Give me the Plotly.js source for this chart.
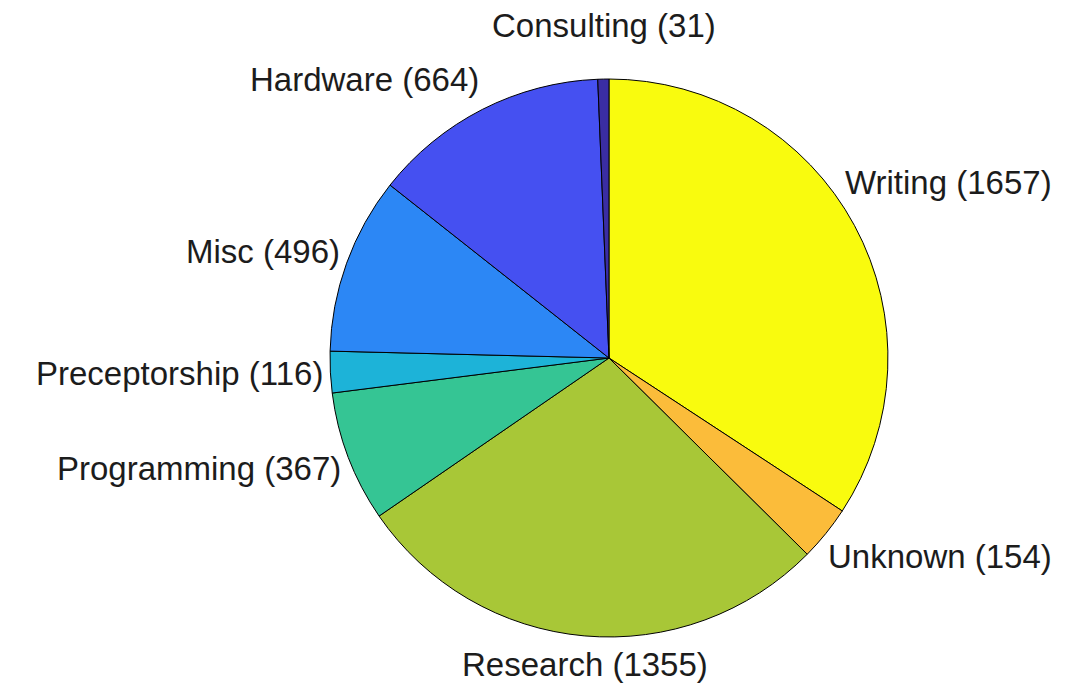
<!DOCTYPE html>
<html>
<head>
<meta charset="utf-8">
<script src="https://cdn.plot.ly/plotly-3.0.1.min.js"></script>
<style>html,body{margin:0;padding:0;background:#fff;}#chart{width:1071px;height:689px;}</style>
</head>
<body>
<div id="chart"></div>
<script>
const categories = ["Writing", "Unknown", "Research", "Programming", "Preceptorship", "Misc", "Hardware", "Consulting"];
const counts = [1657, 154, 1355, 367, 116, 496, 664, 31];
const sliceColors = ["#F9FB0E", "#FBBC3A", "#A8C737", "#35C594", "#1DB3D8", "#2C87F5", "#4550F1", "#3A2DA3"];

const W = 1071, H = 689;
const domX = [0.3081, 0.8291], domY = [0.0755, 0.8853];
const fontFamily = "Liberation Sans, Arial, Helvetica, sans-serif";
const fontSize = 33;

const trace = {
  type: "pie",
  labels: categories,
  values: counts,
  sort: false,
  direction: "clockwise",
  rotation: 0,
  textinfo: "none",
  marker: {colors: sliceColors, line: {color: "#000", width: 1}},
  domain: {x: domX, y: domY},
  hoverinfo: "label+value",
  automargin: false
};

// Labels placed just outside the rim at each slice's mid angle, kept inside the figure
const ctx = document.createElement("canvas").getContext("2d");
ctx.font = fontSize + "px 'Liberation Sans', Arial, sans-serif";
const total = counts.reduce((a, b) => a + b, 0);
const cxPx = (domX[0] + domX[1]) / 2 * W;
const cyPx = (1 - (domY[0] + domY[1]) / 2) * H;
const rPx = Math.min((domX[1] - domX[0]) * W, (domY[1] - domY[0]) * H) / 2;
const kx = 1.03, ky = 1.12, edge = 20, hBox = fontSize * 1.2, gap = 3;
let cum = 0;
const annotations = categories.map((name, i) => {
  const text = name + " (" + counts[i] + ")";
  const w = ctx.measureText(text).width;
  const mid = (cum + counts[i] / 2) / total * 2 * Math.PI;
  cum += counts[i];
  const ux = Math.sin(mid), uy = Math.cos(mid); // uy positive = up
  let px = cxPx + kx * rPx * ux;
  let py = cyPx - ky * rPx * uy;
  let left, top;
  if (Math.abs(ux) < 0.3) {
    left = px - w / 2;
    top = uy > 0 ? py - hBox : py;
  } else {
    left = ux > 0 ? px : px - w;
    top = py - hBox / 2;
  }
  left = Math.max(edge, Math.min(W - edge - w, left));
  // keep the box off the pie: slide it vertically away from the centre if needed
  const nearX = Math.max(left, Math.min(cxPx, left + w));
  const dx = nearX - cxPx;
  const need = (rPx + gap) * (rPx + gap) - dx * dx;
  if (need > 0) {
    const dyMin = Math.sqrt(need);
    if (top + hBox / 2 < cyPx) {
      const bottom = top + hBox;
      if (cyPx - bottom < dyMin) top = cyPx - dyMin - hBox;
    } else {
      if (top - cyPx < dyMin) top = cyPx + dyMin;
    }
  }
  top = Math.max(4, Math.min(H - 4 - hBox, top));
  return {
    xref: "paper", yref: "paper",
    x: left / W, y: 1 - top / H,
    xanchor: "left", yanchor: "top",
    borderpad: 0,
    text: text,
    showarrow: false,
    font: {family: fontFamily, size: fontSize, color: "#1c1c1c"}
  };
});

const layout = {
  width: W, height: H,
  margin: {l: 0, r: 0, t: 0, b: 0},
  paper_bgcolor: "#fff",
  showlegend: false,
  annotations: annotations
};

Plotly.newPlot("chart", [trace], layout, {displayModeBar: false, staticPlot: true});
</script>
</body>
</html>
